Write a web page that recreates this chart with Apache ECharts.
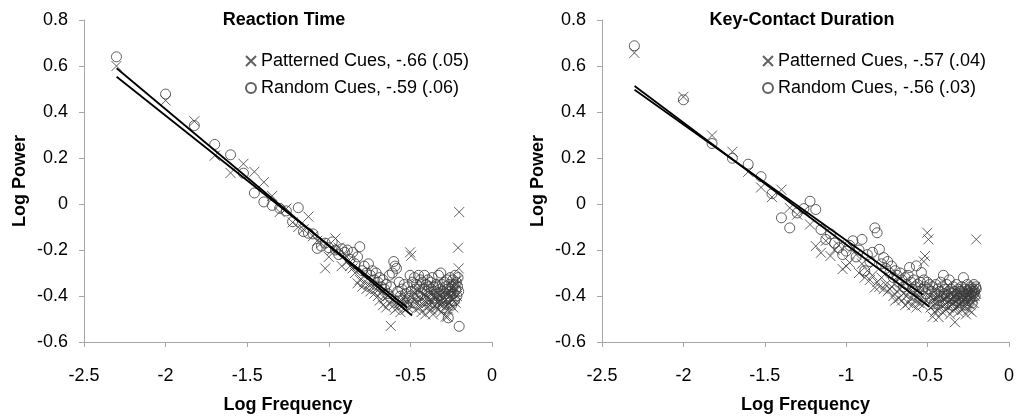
<!DOCTYPE html>
<html><head><meta charset="utf-8">
<script src="https://cdn.jsdelivr.net/npm/echarts@6/dist/echarts.min.js"></script>
<style>html,body{margin:0;padding:0;background:#fff}#c{width:1017px;height:416px}</style>
</head><body><div id="c"></div><script>
// Log frequency values (shared by all four series)
const freqs = [-2.301,-2.000,-1.824,-1.699,-1.602,-1.523,-1.456,-1.398,-1.347,-1.301,
-1.260,-1.222,-1.187,-1.155,-1.125,-1.097,-1.071,-1.046,-1.022,-1.000,
-0.979,-0.959,-0.939,-0.921,-0.903,-0.886,-0.870,-0.854,-0.839,-0.824,
-0.810,-0.796,-0.783,-0.770,-0.757,-0.745,-0.733,-0.721,-0.710,-0.699,
-0.688,-0.678,-0.668,-0.658,-0.648,-0.638,-0.629,-0.620,-0.611,-0.602,
-0.594,-0.585,-0.577,-0.569,-0.561,-0.553,-0.545,-0.538,-0.530,-0.523,
-0.516,-0.509,-0.502,-0.495,-0.488,-0.482,-0.475,-0.469,-0.462,-0.456,
-0.450,-0.444,-0.438,-0.432,-0.426,-0.420,-0.414,-0.409,-0.403,-0.398,
-0.393,-0.387,-0.382,-0.377,-0.372,-0.367,-0.362,-0.357,-0.352,-0.347,
-0.342,-0.337,-0.332,-0.328,-0.323,-0.319,-0.314,-0.310,-0.305,-0.301,
-0.297,-0.292,-0.288,-0.284,-0.280,-0.276,-0.272,-0.268,-0.264,-0.260,
-0.256,-0.252,-0.248,-0.244,-0.240,-0.237,-0.233,-0.229,-0.226,-0.222,
-0.218,-0.215,-0.211,-0.208,-0.204,-0.201];

// Reaction Time — Patterned cues
const rtPatterned = [0.60,0.45,0.36,0.21,0.135,0.175,0.14,0.095,0.035,-0.035,
-0.02,-0.08,-0.10,-0.11,-0.055,-0.14,-0.16,-0.17,-0.28,-0.23,
-0.20,-0.15,-0.19,-0.27,-0.22,-0.25,-0.27,-0.28,-0.30,-0.345,
-0.33,-0.36,-0.34,-0.37,-0.35,-0.38,-0.36,-0.39,-0.37,-0.40,
-0.42,-0.38,-0.44,-0.41,-0.45,-0.40,-0.43,-0.53,-0.42,-0.44,
-0.46,-0.41,-0.45,-0.43,-0.47,-0.42,-0.44,-0.40,-0.46,-0.43,
-0.45,-0.41,-0.21,-0.225,-0.44,-0.38,-0.42,-0.46,-0.40,-0.43,
-0.37,-0.45,-0.41,-0.47,-0.39,-0.44,-0.42,-0.48,-0.40,-0.43,
-0.45,-0.41,-0.44,-0.38,-0.46,-0.42,-0.48,-0.40,-0.44,-0.41,
-0.45,-0.39,-0.43,-0.46,-0.42,-0.40,-0.44,-0.47,-0.41,-0.43,
-0.38,-0.45,-0.42,-0.49,-0.40,-0.44,-0.49,-0.46,-0.39,-0.43,
-0.40,-0.44,-0.37,-0.42,-0.39,-0.45,-0.36,-0.41,-0.38,-0.43,
-0.35,-0.40,-0.33,-0.19,-0.28,-0.035];
// Reaction Time — Random cues
const rtRandom = [0.64,0.478,0.341,0.259,0.214,0.134,0.048,0.009,-0.006,-0.019,
-0.03,-0.077,-0.016,-0.12,-0.127,-0.13,-0.193,-0.183,-0.17,-0.19,
-0.165,-0.20,-0.22,-0.195,-0.21,-0.20,-0.24,-0.21,-0.26,-0.23,
-0.186,-0.29,-0.27,-0.30,-0.26,-0.31,-0.29,-0.33,-0.30,-0.34,
-0.32,-0.36,-0.33,-0.37,-0.35,-0.39,-0.31,-0.36,-0.30,-0.25,
-0.27,-0.28,-0.38,-0.34,-0.40,-0.37,-0.42,-0.35,-0.39,-0.44,
-0.36,-0.41,-0.31,-0.38,-0.34,-0.43,-0.32,-0.37,-0.35,-0.40,
-0.31,-0.36,-0.33,-0.39,-0.34,-0.37,-0.31,-0.42,-0.35,-0.38,
-0.33,-0.36,-0.40,-0.34,-0.37,-0.32,-0.41,-0.36,-0.38,-0.43,
-0.35,-0.39,-0.36,-0.31,-0.40,-0.37,-0.30,-0.42,-0.35,-0.38,
-0.45,-0.34,-0.39,-0.36,-0.41,-0.33,-0.37,-0.495,-0.35,-0.40,
-0.32,-0.38,-0.44,-0.36,-0.33,-0.39,-0.35,-0.42,-0.31,-0.37,
-0.34,-0.40,-0.36,-0.32,-0.38,-0.532];
// Key-Contact Duration — Patterned cues
const kcPatterned = [0.657,0.466,0.298,0.227,0.14,0.072,0.03,0.062,-0.017,-0.046,
-0.03,-0.089,-0.183,-0.212,-0.16,-0.226,-0.20,-0.18,-0.283,-0.27,
-0.255,-0.19,-0.22,-0.30,-0.26,-0.32,-0.29,-0.33,-0.31,-0.363,
-0.34,-0.36,-0.32,-0.37,-0.35,-0.38,-0.37,-0.36,-0.40,-0.42,
-0.38,-0.41,-0.37,-0.42,-0.39,-0.44,-0.40,-0.43,-0.38,-0.41,
-0.44,-0.39,-0.42,-0.45,-0.40,-0.43,-0.38,-0.41,-0.44,-0.25,
-0.226,-0.42,-0.125,-0.154,-0.40,-0.45,-0.42,-0.49,-0.44,-0.47,
-0.41,-0.46,-0.43,-0.492,-0.40,-0.45,-0.42,-0.47,-0.39,-0.44,
-0.41,-0.46,-0.43,-0.40,-0.45,-0.42,-0.48,-0.39,-0.44,-0.41,
-0.46,-0.43,-0.514,-0.40,-0.45,-0.42,-0.38,-0.47,-0.41,-0.44,
-0.39,-0.43,-0.46,-0.40,-0.42,-0.37,-0.45,-0.41,-0.48,-0.39,
-0.43,-0.40,-0.46,-0.38,-0.42,-0.44,-0.39,-0.47,-0.37,-0.41,
-0.43,-0.38,-0.40,-0.36,-0.39,-0.154];
// Key-Contact Duration — Random cues
const kcRandom = [0.688,0.453,0.263,0.199,0.173,0.119,0.045,-0.06,-0.104,-0.039,
-0.02,0.012,-0.024,-0.111,-0.154,-0.13,-0.17,-0.19,-0.22,-0.205,
-0.18,-0.16,-0.23,-0.20,-0.154,-0.29,-0.22,-0.25,-0.21,-0.104,
-0.125,-0.197,-0.26,-0.233,-0.28,-0.25,-0.30,-0.27,-0.32,-0.29,
-0.31,-0.34,-0.30,-0.33,-0.36,-0.32,-0.35,-0.31,-0.276,-0.34,
-0.37,-0.33,-0.36,-0.269,-0.35,-0.38,-0.34,-0.298,-0.37,-0.33,
-0.36,-0.39,-0.34,-0.37,-0.35,-0.41,-0.38,-0.36,-0.434,-0.39,
-0.35,-0.40,-0.37,-0.42,-0.38,-0.34,-0.40,-0.36,-0.31,-0.39,
-0.37,-0.43,-0.35,-0.40,-0.38,-0.33,-0.41,-0.37,-0.39,-0.44,
-0.36,-0.40,-0.38,-0.42,-0.35,-0.39,-0.41,-0.37,-0.43,-0.38,
-0.40,-0.36,-0.42,-0.39,-0.32,-0.41,-0.37,-0.44,-0.38,-0.40,
-0.35,-0.42,-0.39,-0.37,-0.41,-0.36,-0.40,-0.38,-0.43,-0.37,
-0.39,-0.35,-0.38,-0.40,-0.36,-0.37];

// Fitted regression lines (endpoints)
const rtFitPatterned = [[-2.3,0.59],[-0.49,-0.485]];
const rtFitRandom = [[-2.3,0.553],[-0.52,-0.45]];
const kcFitPatterned = [[-2.3,0.513],[-0.49,-0.447]];
const kcFitRandom = [[-2.3,0.497],[-0.53,-0.395]];

const panelTitles = ['Reaction Time','Key-Contact Duration'];
const legendNames = [
  ['Patterned Cues, -.66 (.05)','Random Cues, -.59 (.06)'],
  ['Patterned Cues, -.57 (.04)','Random Cues, -.56 (.03)']
];

const FONT = 'Liberation Sans, Arial, sans-serif';
const FS = 18;
const pair = ys => freqs.map((x,i)=>[x, ys[i]]);
const crossPath = 'path://M0,0L10,10M10,0L0,10';
const markStyle = {color:'rgba(0,0,0,0)', borderColor:'#3a3a3a', borderWidth:1};

function xAxis(i){return {gridIndex:i,type:'value',min:-2.5,max:0,interval:0.5,
  name:'Log Frequency',nameLocation:'middle',nameGap:54,
  nameTextStyle:{fontFamily:FONT,fontSize:FS,fontWeight:'bold',color:'#000'},
  axisLine:{onZero:false,lineStyle:{color:'#a6a6a6',width:1}},
  axisTick:{show:true,inside:false,length:5,lineStyle:{color:'#a6a6a6'}},
  axisLabel:{fontFamily:FONT,fontSize:FS,color:'#000',margin:25},
  splitLine:{show:false}};}
function yAxis(i){return {gridIndex:i,type:'value',min:-0.6,max:0.8,interval:0.2,
  name:'Log Power',nameLocation:'middle',nameGap:55,
  nameTextStyle:{fontFamily:FONT,fontSize:FS,fontWeight:'bold',color:'#000'},
  axisLine:{show:true,onZero:false,lineStyle:{color:'#a6a6a6',width:1}},
  axisTick:{show:true,inside:false,length:5,lineStyle:{color:'#a6a6a6'}},
  axisLabel:{fontFamily:FONT,fontSize:FS,color:'#000',margin:16,
    formatter:v=>Math.abs(v)<1e-9?'0':v.toFixed(1)},
  splitLine:{show:false}};}

function scatter(name,i,ys,sym){return {name,type:'scatter',xAxisIndex:i,yAxisIndex:i,
  data:pair(ys),symbol:sym,symbolSize:10,itemStyle:markStyle,z:2,
  emphasis:{disabled:true}};}
function fit(i,pts){return {type:'line',xAxisIndex:i,yAxisIndex:i,data:pts,
  showSymbol:false,symbol:'none',lineStyle:{color:'#000',width:1.8},z:3,silent:true};}

const chart = echarts.init(document.getElementById('c'),null,{renderer:'canvas'});
chart.setOption({
  animation:false,
  backgroundColor:'#fff',
  grid:[{left:84,right:525,top:20,bottom:74,containLabel:false,outerBoundsMode:'none'},
        {left:602,right:8,top:20,bottom:74,containLabel:false,outerBoundsMode:'none'}],
  xAxis:[xAxis(0),xAxis(1)],
  yAxis:[yAxis(0),yAxis(1)],
  legend:[
    {data:legendNames[0],orient:'vertical',left:240,top:47,itemWidth:10,itemHeight:10,itemGap:9,
     textStyle:{fontFamily:FONT,fontSize:FS,color:'#000'},selectedMode:false},
    {data:legendNames[1],orient:'vertical',left:757,top:47,itemWidth:10,itemHeight:10,itemGap:9,
     textStyle:{fontFamily:FONT,fontSize:FS,color:'#000'},selectedMode:false}
  ],
  graphic:[
    {type:'text',x:284,y:20,style:{text:panelTitles[0],font:'bold '+FS+'px '+FONT,fill:'#000',align:'center',verticalAlign:'middle'}},
    {type:'text',x:802,y:20,style:{text:panelTitles[1],font:'bold '+FS+'px '+FONT,fill:'#000',align:'center',verticalAlign:'middle'}}
  ],
  series:[
    scatter(legendNames[0][0],0,rtPatterned,crossPath),
    scatter(legendNames[0][1],0,rtRandom,'circle'),
    scatter(legendNames[1][0],1,kcPatterned,crossPath),
    scatter(legendNames[1][1],1,kcRandom,'circle'),
    fit(0,rtFitPatterned),fit(0,rtFitRandom),
    fit(1,kcFitPatterned),fit(1,kcFitRandom)
  ]
});
</script></body></html>
